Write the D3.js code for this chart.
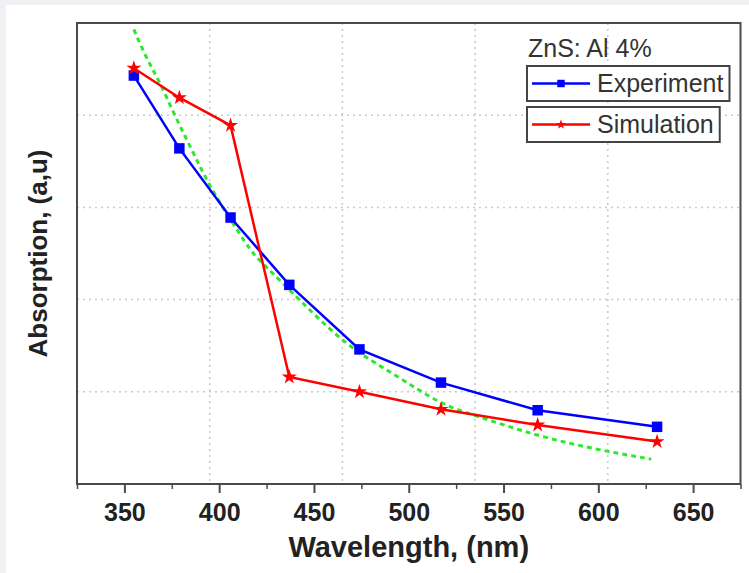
<!DOCTYPE html>
<html>
<head>
<meta charset="utf-8">
<script src="https://cdn.jsdelivr.net/npm/d3@7"></script>
<style>
  html, body { margin: 0; padding: 0; background: #eff1f4; }
  svg { display: block; }
</style>
</head>
<body>
<svg id="chart" width="749" height="573"></svg>
<script>
// ---- data ----
const wavelengths = [355, 379, 406, 437, 474, 517, 568, 631];
const experiment  = [4.43, 3.64, 2.89, 2.16, 1.46, 1.10, 0.80, 0.62];
const simulation  = [4.51, 4.19, 3.89, 1.16, 1.00, 0.81, 0.64, 0.46];
const fitX = [355, 362, 369, 376, 383, 390, 396, 416, 421, 436, 467, 492, 516, 534, 569, 605, 628];
const fitY = [4.93, 4.60, 4.35, 4.02, 3.73, 3.44, 3.19, 2.54, 2.43, 2.13, 1.49, 1.20, 0.87, 0.75, 0.51, 0.35, 0.27];
const xTicks = [350, 400, 450, 500, 550, 600, 650];
const xMinorTicks = [325, 375, 425, 475, 525, 575, 625, 675];
const xGrid = [395, 465, 535, 605];
const yGrid = [1, 2, 3, 4];
const legendTitle = "ZnS: Al 4%";
const seriesNames = ["Experiment", "Simulation"];

const W = 749, H = 573;
const margin = {left: 77, top: 23, right: 8.5, bottom: 89};
const pw = W - margin.left - margin.right, ph = H - margin.top - margin.bottom;

const svg = d3.select("#chart");
svg.append("rect").attr("x", 6).attr("y", 5).attr("width", W - 6).attr("height", H - 5).attr("fill", "#fff");

const g = svg.append("g").attr("transform", `translate(${margin.left},${margin.top})`);
const x = d3.scaleLinear().domain([325, 675]).range([0, pw]);
const y = d3.scaleLinear().domain([0, 5]).range([ph, 0]);

// grid
g.selectAll(".vg").data(xGrid).join("line")
  .attr("x1", d => x(d)).attr("x2", d => x(d)).attr("y1", 0).attr("y2", ph)
  .attr("stroke", "#c8c8c8").attr("stroke-width", 1.5).attr("stroke-dasharray", "2,4");
g.selectAll(".hg").data(yGrid).join("line")
  .attr("y1", d => y(d)).attr("y2", d => y(d)).attr("x1", 0).attr("x2", pw)
  .attr("stroke", "#c8c8c8").attr("stroke-width", 1.5).attr("stroke-dasharray", "2,4");

// fit curve (green dotted)
const fitData = fitX.map((v, i) => [v, fitY[i]]);
g.append("path").datum(fitData)
  .attr("fill", "none").attr("stroke", "#2ee82e").attr("stroke-width", 3)
  .attr("stroke-dasharray", "5,4")
  .attr("d", d3.line().x(d => x(d[0])).y(d => y(d[1])).curve(d3.curveBasis));

const line = d3.line().x(d => x(d[0])).y(d => y(d[1]));
const expData = wavelengths.map((v, i) => [v, experiment[i]]);
const simData = wavelengths.map((v, i) => [v, simulation[i]]);

g.append("path").datum(expData).attr("fill", "none").attr("stroke", "#0000ff").attr("stroke-width", 2.5).attr("d", line);
g.selectAll(".sq").data(expData).join("path")
  .attr("transform", d => `translate(${x(d[0])},${y(d[1])})`)
  .attr("d", d3.symbol(d3.symbolSquare, 110)()).attr("fill", "#0000ff");

g.append("path").datum(simData).attr("fill", "none").attr("stroke", "#ff0000").attr("stroke-width", 2.5).attr("d", line);
g.selectAll(".st").data(simData).join("path")
  .attr("transform", d => `translate(${x(d[0])},${y(d[1])})`)
  .attr("d", d3.symbol(d3.symbolStar, 70)()).attr("fill", "#ff0000");

// frame
g.append("rect").attr("x", 0).attr("y", 0).attr("width", pw).attr("height", ph)
  .attr("fill", "none").attr("stroke", "#4a4a4a").attr("stroke-width", 2);

// x axis
const xAxis = g.append("g").attr("transform", `translate(0,${ph})`)
  .call(d3.axisBottom(x).tickValues(xTicks).tickSize(9).tickPadding(10).tickFormat(d3.format("d")));
xAxis.select(".domain").remove();
xAxis.selectAll(".tick line").attr("stroke", "#4a4a4a").attr("stroke-width", 2);
xAxis.selectAll(".tick text").attr("font-family", "Liberation Sans, Arial, sans-serif")
  .attr("font-weight", "bold").attr("font-size", 25).attr("fill", "#222");
const xMinor = g.append("g").attr("transform", `translate(0,${ph})`)
  .call(d3.axisBottom(x).tickValues(xMinorTicks).tickSize(5).tickFormat(""));
xMinor.select(".domain").remove();
xMinor.selectAll(".tick line").attr("stroke", "#4a4a4a").attr("stroke-width", 1.5);

// axis titles
svg.append("text").attr("x", margin.left + pw / 2).attr("y", 557)
  .attr("text-anchor", "middle").attr("font-family", "Liberation Sans, Arial, sans-serif")
  .attr("font-weight", "bold").attr("font-size", 29).attr("fill", "#222")
  .text("Wavelength, (nm)");
svg.append("text").attr("transform", `translate(47,${margin.top + ph / 2}) rotate(-90)`)
  .attr("text-anchor", "middle").attr("font-family", "Liberation Sans, Arial, sans-serif")
  .attr("font-weight", "bold").attr("font-size", 26).attr("fill", "#222")
  .text("Absorption, (a,u)");

// legend
const font = "Liberation Sans, Arial, sans-serif";
svg.append("text").attr("x", 528).attr("y", 57).attr("font-family", font)
  .attr("font-size", 25).attr("fill", "#333").text(legendTitle);

const legColors = ["#0000ff", "#ff0000"];
const legSymbols = [d3.symbol(d3.symbolSquare, 56)(), d3.symbol(d3.symbolStar, 30)()];
const boxTops = [66, 107];
seriesNames.forEach((name, i) => {
  const lg = svg.append("g");
  const rect = lg.append("rect").attr("x", 527).attr("y", boxTops[i]).attr("height", 35)
    .attr("fill", "#fff").attr("stroke", "#444").attr("stroke-width", 2);
  const cy = boxTops[i] + 17.5;
  lg.append("line").attr("x1", 532).attr("x2", 590).attr("y1", cy).attr("y2", cy)
    .attr("stroke", legColors[i]).attr("stroke-width", 2.5);
  lg.append("path").attr("transform", `translate(561,${cy})`).attr("d", legSymbols[i]).attr("fill", legColors[i]);
  const t = lg.append("text").attr("x", 597).attr("y", cy + 8.5).attr("font-family", font)
    .attr("font-size", 25).attr("fill", "#333").text(name);
  const bb = t.node().getBBox();
  rect.attr("width", bb.x + bb.width + 6 - 527);
});
</script>
</body>
</html>
